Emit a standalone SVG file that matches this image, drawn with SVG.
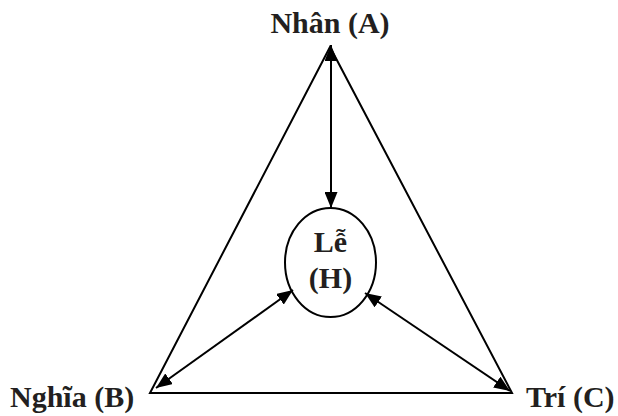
<svg xmlns="http://www.w3.org/2000/svg" width="618" height="416" viewBox="0 0 618 416">
<style>
.ln{stroke:#000;stroke-width:2;fill:none}
.lbl{font-family:"Liberation Serif","Times New Roman",serif;font-weight:bold;font-size:30px;fill:#231f20}
</style>
<defs>
<marker id="ah" viewBox="0 0 16 13" refX="16" refY="6.5" markerWidth="16" markerHeight="13" markerUnits="userSpaceOnUse" orient="auto-start-reverse">
<path d="M0,0 L16,6.5 L0,13 Z" fill="#000"/>
</marker>
</defs>
<rect width="618" height="416" fill="#fff"/>
<g id="connectors">
<polygon class="ln" points="330,47 150,393 512,393"/>
<line class="ln" x1="331" y1="45" x2="331" y2="208" marker-start="url(#ah)" marker-end="url(#ah)"/>
<line class="ln" x1="156" y1="388" x2="293" y2="290" marker-start="url(#ah)" marker-end="url(#ah)"/>
<line class="ln" x1="510" y1="391" x2="365" y2="293" marker-start="url(#ah)" marker-end="url(#ah)"/>
</g>
<g id="nodeA"><text class="lbl" x="330" y="33" text-anchor="middle">Nhân (A)</text></g>
<g id="nodeB"><text class="lbl" x="10" y="407">Nghĩa (B)</text></g>
<g id="nodeC"><text class="lbl" x="526" y="407">Trí (C)</text></g>
<g id="nodeH">
<ellipse class="ln" cx="330.5" cy="262.5" rx="45.5" ry="54.5"/>
<text class="lbl" x="330.5" y="252" text-anchor="middle" font-size="29">Lễ</text>
<text class="lbl" x="330.5" y="288" text-anchor="middle" font-size="29">(H)</text>
</g>
</svg>
